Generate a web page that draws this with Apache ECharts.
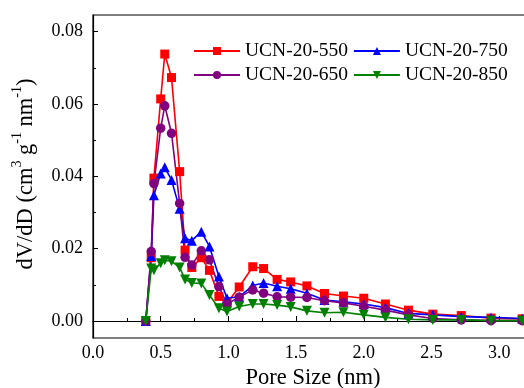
<!DOCTYPE html>
<html>
<head>
<meta charset="utf-8">
<script src="https://cdn.jsdelivr.net/npm/echarts@6/dist/echarts.min.js"></script>
<style>html,body{margin:0;padding:0;background:#fff}#c{width:524px;height:388px}</style>
</head>
<body>
<div id="c"></div>
<script>
const poreSize = [0.39,0.43,0.45,0.50,0.53,0.58,0.64,0.68,0.73,0.80,0.86,0.93,0.99,1.08,1.18,1.26,1.36,1.46,1.58,1.71,1.85,2.00,2.16,2.33,2.51,2.72,2.94,3.17];
const ucn550 = [0,0.0175,0.0395,0.0614,0.0738,0.0673,0.0413,0.0196,0.0148,0.0175,0.0140,0.0068,0.0050,0.0094,0.0150,0.0145,0.0115,0.0108,0.0097,0.0076,0.0069,0.0063,0.0047,0.0030,0.0019,0.0015,0.0008,0.0006];
const ucn750 = [0,0.0180,0.0348,0.0408,0.0425,0.0390,0.0310,0.0229,0.0222,0.0247,0.0206,0.0123,0.0063,0.0067,0.0098,0.0105,0.0096,0.0089,0.0077,0.0058,0.0053,0.0047,0.0037,0.0021,0.0017,0.0012,0.0010,0.0007];
const ucn650 = [0,0.0192,0.0380,0.0533,0.0595,0.0519,0.0325,0.0176,0.0155,0.0194,0.0169,0.0095,0.0047,0.0066,0.0086,0.0077,0.0067,0.0066,0.0065,0.0056,0.0050,0.0041,0.0030,0.0017,0.0007,0.0003,0.0001,0.0001];
const ucn850 = [0,0.0145,0.0140,0.0160,0.0168,0.0165,0.0148,0.0115,0.0105,0.0104,0.0072,0.0035,0.0026,0.0040,0.0047,0.0047,0.0044,0.0039,0.0028,0.0023,0.0024,0.0017,0.0010,0.0005,0.0003,0.0003,0.0001,0.0001];
const yMajor = [0, 0.02, 0.04, 0.06, 0.08];
const yMinor = [0.01, 0.03, 0.05, 0.07];
const xMajor = [0, 0.5, 1.0, 1.5, 2.0, 2.5, 3.0];
const xMinor = [0.25, 0.75, 1.25, 1.75, 2.25, 2.75, 3.25];

const FONT = 'Liberation Serif';
const pair = (ys) => poreSize.map((x, i) => [x, ys[i]]);

const chart = echarts.init(document.getElementById('c'), null, {renderer: 'canvas'});
const mk = (name, data, color, symbol, size) => ({
  name, type: 'line', data: pair(data), symbol, symbolSize: size,
  lineStyle: {color, width: 1.6}, itemStyle: {color}, clip: false, z: 3
});
const legendBase = {
  left: 193, padding: 0, itemWidth: 46, itemHeight: 10, itemGap: 5, orient: 'horizontal',
  textStyle: {fontFamily: FONT, fontSize: 19.5, color: '#000'}
};
chart.setOption({
  animation: false,
  backgroundColor: '#fff',
  grid: {left: 93, top: 15, bottom: 50, right: -9, show: true, borderColor: '#000', borderWidth: 1.2,
    containLabel: false, outerBoundsMode: 'none'},
  legend: [
    Object.assign({}, legendBase, {top: 41, data: ['UCN-20-550', 'UCN-20-750']}),
    Object.assign({}, legendBase, {top: 65, data: ['UCN-20-650', 'UCN-20-850']})
  ],
  graphic: [{
    type: 'text', x: 24, y: 174, rotation: Math.PI / 2,
    style: {
      text: '{a|dV/dD (cm}{s|3}{a| g}{s|-1}{a| nm}{s|-1}{a|)}',
      align: 'center', verticalAlign: 'middle',
      rich: {
        a: {fontFamily: FONT, fontSize: 22.5, fill: '#000', lineHeight: 28, verticalAlign: 'bottom'},
        s: {fontFamily: FONT, fontSize: 14, fill: '#000', lineHeight: 28, verticalAlign: 'top'}
      }
    }
  }],
  xAxis: [{
    type: 'value', min: 0, max: 3.25, position: 'bottom',
    name: 'Pore Size (nm)', nameLocation: 'middle', nameGap: 27,
    nameTextStyle: {fontFamily: FONT, fontSize: 22.5, color: '#000'},
    axisLine: {lineStyle: {color: '#000', width: 1.2}},
    axisTick: {inside: true, length: 5, customValues: xMajor, lineStyle: {color: '#000'}},
    axisLabel: {customValues: xMajor, fontFamily: FONT, fontSize: 18, color: '#000', margin: 6,
      formatter: v => v.toFixed(1)},
    splitLine: {show: false}
  }, {
    type: 'value', min: 0, max: 3.25, position: 'bottom', gridIndex: 0,
    axisLine: {show: false},
    axisTick: {inside: true, length: 3, customValues: xMinor, lineStyle: {color: '#000'}},
    axisLabel: {show: false}, splitLine: {show: false}
  }],
  yAxis: [{
    type: 'value', min: -0.0047, max: 0.0846, position: 'left',
    axisLine: {show: true, lineStyle: {color: '#000', width: 1.2}},
    axisTick: {inside: true, length: 5, customValues: yMajor, lineStyle: {color: '#000'}},
    axisLabel: {customValues: yMajor, fontFamily: FONT, fontSize: 18, color: '#000', margin: 10,
      formatter: v => v.toFixed(2)},
    splitLine: {show: false}
  }, {
    type: 'value', min: -0.0047, max: 0.0846, position: 'left',
    axisLine: {show: false},
    axisTick: {show: true, inside: true, length: 3, customValues: yMinor, lineStyle: {color: '#000'}},
    axisLabel: {show: false}, splitLine: {show: false}
  }],
  series: [
    mk('UCN-20-550', ucn550, '#ff0000', 'rect', 9),
    mk('UCN-20-750', ucn750, '#0000ff', 'triangle', 10),
    mk('UCN-20-650', ucn650, '#800080', 'circle', 9.5),
    mk('UCN-20-850', ucn850, '#008000', 'path://M0,0 L10,0 L5,9 Z', 10)
  ]
});
</script>
</body>
</html>
